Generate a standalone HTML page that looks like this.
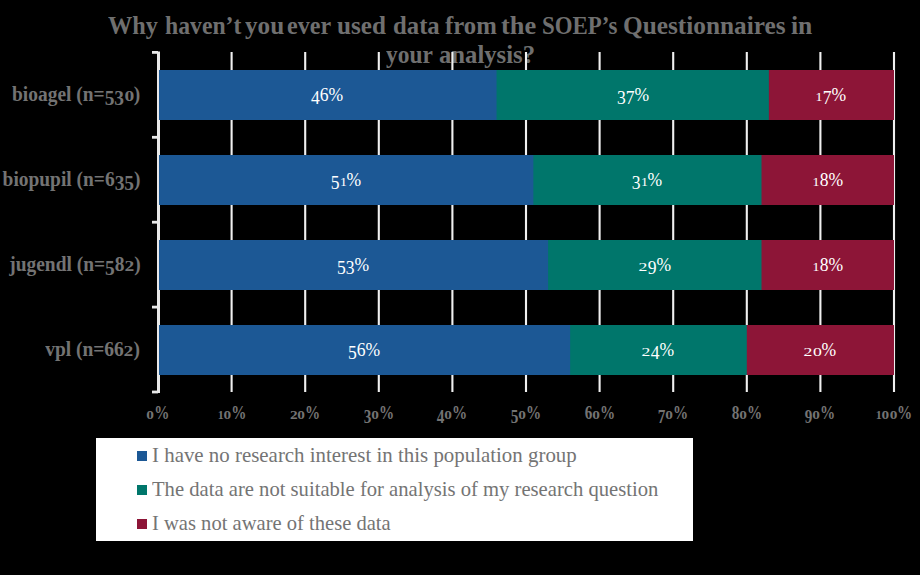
<!DOCTYPE html>
<html><head><meta charset="utf-8"><style>
*{margin:0;padding:0;box-sizing:border-box}
html,body{width:920px;height:575px;overflow:hidden;background:#000}
body{position:relative;font-family:"Liberation Serif",serif}
.t{position:absolute;white-space:nowrap;line-height:1}
.g{position:absolute}
.dx{display:inline-block;font-size:0.72em;transform:scaleX(1.4);margin:0 0.1em}
.dx1{display:inline-block;font-size:0.72em;transform:scaleX(1.1);margin:0 0.025em}
.dd{position:relative;top:0.2em}
</style></head>
<body>
<div class="t" style="left:108.20px;top:12.64px;font-size:25.5px;font-weight:bold;color:#6f6f6f;transform:scaleX(0.9528);transform-origin:0 0">Why</div>
<div class="t" style="left:164.60px;top:12.64px;font-size:25.5px;font-weight:bold;color:#6f6f6f;transform:scaleX(0.9293);transform-origin:0 0">haven’t</div>
<div class="t" style="left:244.70px;top:12.64px;font-size:25.5px;font-weight:bold;color:#6f6f6f;transform:scaleX(0.9872);transform-origin:0 0">you</div>
<div class="t" style="left:287.36px;top:12.64px;font-size:25.5px;font-weight:bold;color:#6f6f6f;transform:scaleX(0.9435);transform-origin:0 0">ever</div>
<div class="t" style="left:337.20px;top:12.64px;font-size:25.5px;font-weight:bold;color:#6f6f6f;transform:scaleX(0.9860);transform-origin:0 0">used</div>
<div class="t" style="left:392.83px;top:12.64px;font-size:25.5px;font-weight:bold;color:#6f6f6f;transform:scaleX(0.9702);transform-origin:0 0">data</div>
<div class="t" style="left:444.70px;top:12.64px;font-size:25.5px;font-weight:bold;color:#6f6f6f;transform:scaleX(0.9698);transform-origin:0 0">from</div>
<div class="t" style="left:501.40px;top:12.64px;font-size:25.5px;font-weight:bold;color:#6f6f6f;transform:scaleX(1.0353);transform-origin:0 0">the</div>
<div class="t" style="left:541.50px;top:12.64px;font-size:25.5px;font-weight:bold;color:#6f6f6f;transform:scaleX(0.8964);transform-origin:0 0">SOEP’s</div>
<div class="t" style="left:623.01px;top:12.64px;font-size:25.5px;font-weight:bold;color:#6f6f6f;transform:scaleX(0.9926);transform-origin:0 0">Questionnaires</div>
<div class="t" style="left:790.70px;top:12.64px;font-size:25.5px;font-weight:bold;color:#6f6f6f;transform:scaleX(1.0048);transform-origin:0 0">in</div>
<div class="t" style="left:386.10px;top:41.54px;font-size:25.5px;font-weight:bold;color:#6f6f6f;transform:scaleX(0.9196);transform-origin:0 0">your</div>
<div class="t" style="left:439.03px;top:41.54px;font-size:25.5px;font-weight:bold;color:#6f6f6f;transform:scaleX(0.9680);transform-origin:0 0">analysis?</div>
<svg class="g" style="left:0;top:0" width="920" height="575" viewBox="0 0 920 575"><rect x="230.55" y="52" width="2.1" height="340" fill="#f0f0f0"/><rect x="304.15" y="52" width="2.1" height="340" fill="#f0f0f0"/><rect x="377.75" y="52" width="2.1" height="340" fill="#f0f0f0"/><rect x="451.35" y="52" width="2.1" height="340" fill="#f0f0f0"/><rect x="524.95" y="52" width="2.1" height="340" fill="#f0f0f0"/><rect x="598.55" y="52" width="2.1" height="340" fill="#f0f0f0"/><rect x="672.15" y="52" width="2.1" height="340" fill="#f0f0f0"/><rect x="745.75" y="52" width="2.1" height="340" fill="#f0f0f0"/><rect x="819.35" y="52" width="2.1" height="340" fill="#f0f0f0"/><rect x="892.95" y="52" width="2.1" height="340" fill="#f0f0f0"/><rect x="157" y="51.5" width="3" height="341.5" fill="#e8e8e8"/><rect x="152" y="51.00" width="6" height="2.8" fill="#e8e8e8"/><rect x="152" y="135.90" width="6" height="2.8" fill="#e8e8e8"/><rect x="152" y="220.80" width="6" height="2.8" fill="#e8e8e8"/><rect x="152" y="305.70" width="6" height="2.8" fill="#e8e8e8"/><rect x="152" y="390.60" width="6" height="2.8" fill="#e8e8e8"/><rect x="159.00" y="70" width="735.00" height="50" fill="#1c5895"/><rect x="496.56" y="70" width="397.44" height="50" fill="#00766b"/><rect x="768.88" y="70" width="125.12" height="50" fill="#8d1537"/><rect x="159.00" y="155" width="735.00" height="50" fill="#1c5895"/><rect x="533.36" y="155" width="360.64" height="50" fill="#00766b"/><rect x="761.52" y="155" width="132.48" height="50" fill="#8d1537"/><rect x="159.00" y="240" width="735.00" height="50" fill="#1c5895"/><rect x="548.08" y="240" width="345.92" height="50" fill="#00766b"/><rect x="761.52" y="240" width="132.48" height="50" fill="#8d1537"/><rect x="159.00" y="325" width="735.00" height="50" fill="#1c5895"/><rect x="570.16" y="325" width="323.84" height="50" fill="#00766b"/><rect x="746.80" y="325" width="147.20" height="50" fill="#8d1537"/></svg>
<div class="t" style="left:277.28px;width:100px;text-align:center;top:85.81px;font-size:18.5px;color:#fff;transform:scaleX(0.95)"><span class="dd">4</span>6%</div>
<div class="t" style="left:582.72px;width:100px;text-align:center;top:85.81px;font-size:18.5px;color:#fff;transform:scaleX(0.95)"><span class="dd">3</span><span class="dd">7</span>%</div>
<div class="t" style="left:781.44px;width:100px;text-align:center;top:85.81px;font-size:18.5px;color:#fff;transform:scaleX(0.95)"><span class="dx1">1</span><span class="dd">7</span>%</div>
<div class="t" style="right:779.70px;top:83.73px;font-size:20.5px;font-weight:bold;color:#737373;transform:scaleX(0.948);transform-origin:100% 0">bioagel (n=<span class="dd">5</span><span class="dd">3</span><span class="dx">0</span>)</div>
<div class="t" style="left:295.68px;width:100px;text-align:center;top:170.81px;font-size:18.5px;color:#fff;transform:scaleX(0.95)"><span class="dd">5</span><span class="dx1">1</span>%</div>
<div class="t" style="left:597.44px;width:100px;text-align:center;top:170.81px;font-size:18.5px;color:#fff;transform:scaleX(0.95)"><span class="dd">3</span><span class="dx1">1</span>%</div>
<div class="t" style="left:777.76px;width:100px;text-align:center;top:170.81px;font-size:18.5px;color:#fff;transform:scaleX(0.95)"><span class="dx1">1</span>8%</div>
<div class="t" style="right:779.70px;top:168.73px;font-size:20.5px;font-weight:bold;color:#737373;transform:scaleX(0.948);transform-origin:100% 0">biopupil (n=6<span class="dd">3</span><span class="dd">5</span>)</div>
<div class="t" style="left:303.04px;width:100px;text-align:center;top:255.81px;font-size:18.5px;color:#fff;transform:scaleX(0.95)"><span class="dd">5</span><span class="dd">3</span>%</div>
<div class="t" style="left:604.80px;width:100px;text-align:center;top:255.81px;font-size:18.5px;color:#fff;transform:scaleX(0.95)"><span class="dx">2</span><span class="dd">9</span>%</div>
<div class="t" style="left:777.76px;width:100px;text-align:center;top:255.81px;font-size:18.5px;color:#fff;transform:scaleX(0.95)"><span class="dx1">1</span>8%</div>
<div class="t" style="right:779.70px;top:253.73px;font-size:20.5px;font-weight:bold;color:#737373;transform:scaleX(0.948);transform-origin:100% 0">jugendl (n=<span class="dd">5</span>8<span class="dx">2</span>)</div>
<div class="t" style="left:314.08px;width:100px;text-align:center;top:340.81px;font-size:18.5px;color:#fff;transform:scaleX(0.95)"><span class="dd">5</span>6%</div>
<div class="t" style="left:608.48px;width:100px;text-align:center;top:340.81px;font-size:18.5px;color:#fff;transform:scaleX(0.95)"><span class="dx">2</span><span class="dd">4</span>%</div>
<div class="t" style="left:770.40px;width:100px;text-align:center;top:340.81px;font-size:18.5px;color:#fff;transform:scaleX(0.95)"><span class="dx">2</span><span class="dx">0</span>%</div>
<div class="t" style="right:779.70px;top:338.73px;font-size:20.5px;font-weight:bold;color:#737373;transform:scaleX(0.948);transform-origin:100% 0">vpl (n=66<span class="dx">2</span>)</div>
<div class="t" style="left:118.00px;width:80px;text-align:center;top:404.01px;font-size:18.5px;font-weight:bold;color:#737373;transform:scaleX(0.82)"><span class="dx">0</span>%</div>
<div class="t" style="left:191.60px;width:80px;text-align:center;top:404.01px;font-size:18.5px;font-weight:bold;color:#737373;transform:scaleX(0.82)"><span class="dx1">1</span><span class="dx">0</span>%</div>
<div class="t" style="left:265.20px;width:80px;text-align:center;top:404.01px;font-size:18.5px;font-weight:bold;color:#737373;transform:scaleX(0.82)"><span class="dx">2</span><span class="dx">0</span>%</div>
<div class="t" style="left:338.80px;width:80px;text-align:center;top:404.01px;font-size:18.5px;font-weight:bold;color:#737373;transform:scaleX(0.82)"><span class="dd">3</span><span class="dx">0</span>%</div>
<div class="t" style="left:412.40px;width:80px;text-align:center;top:404.01px;font-size:18.5px;font-weight:bold;color:#737373;transform:scaleX(0.82)"><span class="dd">4</span><span class="dx">0</span>%</div>
<div class="t" style="left:486.00px;width:80px;text-align:center;top:404.01px;font-size:18.5px;font-weight:bold;color:#737373;transform:scaleX(0.82)"><span class="dd">5</span><span class="dx">0</span>%</div>
<div class="t" style="left:559.60px;width:80px;text-align:center;top:404.01px;font-size:18.5px;font-weight:bold;color:#737373;transform:scaleX(0.82)">6<span class="dx">0</span>%</div>
<div class="t" style="left:633.20px;width:80px;text-align:center;top:404.01px;font-size:18.5px;font-weight:bold;color:#737373;transform:scaleX(0.82)"><span class="dd">7</span><span class="dx">0</span>%</div>
<div class="t" style="left:706.80px;width:80px;text-align:center;top:404.01px;font-size:18.5px;font-weight:bold;color:#737373;transform:scaleX(0.82)">8<span class="dx">0</span>%</div>
<div class="t" style="left:780.40px;width:80px;text-align:center;top:404.01px;font-size:18.5px;font-weight:bold;color:#737373;transform:scaleX(0.82)"><span class="dd">9</span><span class="dx">0</span>%</div>
<div class="t" style="left:854.00px;width:80px;text-align:center;top:404.01px;font-size:18.5px;font-weight:bold;color:#737373;transform:scaleX(0.82)"><span class="dx1">1</span><span class="dx">0</span><span class="dx">0</span>%</div>
<div class="g" style="left:96px;top:438px;width:597px;height:102.5px;background:#fff"></div>
<div class="g" style="left:136.7px;top:450.60px;width:10.5px;height:10.4px;background:#1c5895"></div>
<div class="t" style="left:152.4px;top:444.56px;font-size:20.7px;color:#747474;transform:scaleX(1.01);transform-origin:0 0">I have no research interest in this population group</div>
<div class="g" style="left:136.7px;top:484.60px;width:10.5px;height:10.4px;background:#00766b"></div>
<div class="t" style="left:152.4px;top:478.56px;font-size:20.7px;color:#747474;transform:scaleX(0.997);transform-origin:0 0">The data are not suitable for analysis of my research question</div>
<div class="g" style="left:136.7px;top:518.60px;width:10.5px;height:10.4px;background:#8d1537"></div>
<div class="t" style="left:152.4px;top:512.56px;font-size:20.7px;color:#747474;transform:scaleX(0.994);transform-origin:0 0">I was not aware of these data</div>
</body></html>
